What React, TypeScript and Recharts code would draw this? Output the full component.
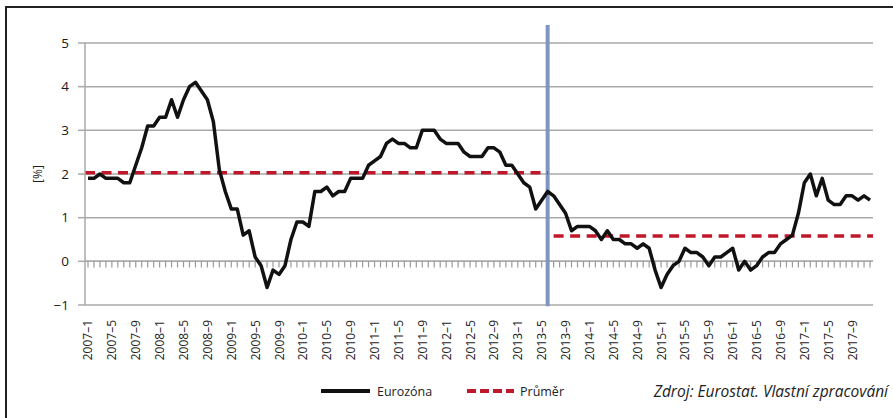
import React from "react";
import { LineChart, Line, XAxis, YAxis, CartesianGrid, ReferenceLine } from "recharts";

// ---- data ----
const YEARS = [2007, 2008, 2009, 2010, 2011, 2012, 2013, 2014, 2015, 2016, 2017];
const MONTHS = [1, 2, 3, 4, 5, 6, 7, 8, 9, 10, 11, 12];

const V2007 = [1.9, 1.9, 2.0, 1.9, 1.9, 1.9, 1.8, 1.8, 2.2, 2.6, 3.1, 3.1];
const V2008 = [3.3, 3.3, 3.7, 3.3, 3.7, 4.0, 4.1, 3.9, 3.7, 3.2, 2.1, 1.6];
const V2009 = [1.2, 1.2, 0.6, 0.7, 0.1, -0.1, -0.6, -0.2, -0.3, -0.1, 0.5, 0.9];
const V2010 = [0.9, 0.8, 1.6, 1.6, 1.7, 1.5, 1.6, 1.6, 1.9, 1.9, 1.9, 2.2];
const V2011 = [2.3, 2.4, 2.7, 2.8, 2.7, 2.7, 2.6, 2.6, 3.0, 3.0, 3.0, 2.8];
const V2012 = [2.7, 2.7, 2.7, 2.5, 2.4, 2.4, 2.4, 2.6, 2.6, 2.5, 2.2, 2.2];
const V2013 = [2.0, 1.8, 1.7, 1.2, 1.4, 1.6, 1.5, 1.3, 1.1, 0.7, 0.8, 0.8];
const V2014 = [0.8, 0.7, 0.5, 0.7, 0.5, 0.5, 0.4, 0.4, 0.3, 0.4, 0.3, -0.2];
const V2015 = [-0.6, -0.3, -0.1, 0.0, 0.3, 0.2, 0.2, 0.1, -0.1, 0.1, 0.1, 0.2];
const V2016 = [0.3, -0.2, 0.0, -0.2, -0.1, 0.1, 0.2, 0.2, 0.4, 0.5, 0.6, 1.1];
const V2017 = [1.8, 2.0, 1.5, 1.9, 1.4, 1.3, 1.3, 1.5, 1.5, 1.4, 1.5, 1.4];

const EUROZONE = [
  ...V2007, ...V2008, ...V2009, ...V2010, ...V2011, ...V2012,
  ...V2013, ...V2014, ...V2015, ...V2016, ...V2017,
];

const CATEGORIES: string[] = [];
YEARS.forEach((y) => MONTHS.forEach((m) => CATEGORIES.push(`${y}–${m}`)));

const TICK_LABELS = [
  "2007–1", "2007–5", "2007–9", "2008–1", "2008–5", "2008–9", "2009–1", "2009–5", "2009–9",
  "2010–1", "2010–5", "2010–9", "2011–1", "2011–5", "2011–9", "2012–1", "2012–5", "2012–9",
  "2013–1", "2013–5", "2013–9", "2014–1", "2014–5", "2014–9", "2015–1", "2015–5", "2015–9",
  "2016–1", "2016–5", "2016–9", "2017–1", "2017–5", "2017–9",
];

const Y_TICKS = [-1, 0, 1, 2, 3, 4, 5];

// averages (Průměr) per period
const AVG_VALUES = [2.03, 0.58];
const AVG_PERIODS = [
  ["2007–1", "2013–6"],
  ["2013–7", "2017–12"],
];
const DIVIDER_AT = "2013–6";

const SERIES_NAME = "Eurozóna";
const AVG_NAME = "Průměr";
const SOURCE = "Zdroj: Eurostat. Vlastní zpracování";
const Y_LABEL = "[%]";

// ---- chart ----
const idx = (c: string) => CATEGORIES.indexOf(c);
const rows = CATEGORIES.map((c, i) => ({ idx: i, period: c, eurozone: EUROZONE[i] }));
const tickIdx = TICK_LABELS.map(idx);
const X_DOMAIN = [-0.5, CATEGORIES.length - 0.5];

const FONT = "'Open Sans', 'Noto Sans', sans-serif";
const GRID = "#a9a9a9";
const RED = "#c0182a";

const XTick = (props: any) => {
  const { x, y, payload } = props;
  return (
    <text
      x={x}
      y={y}
      transform={`rotate(-90 ${x} ${y})`}
      textAnchor="end"
      dominantBaseline="central"
      fontSize={12}
      fontFamily={FONT}
      fill="#222"
    >
      {CATEGORIES[payload.value]}
    </text>
  );
};

export default function App() {
  return (
    <div style={{ position: "absolute", left: 0, top: 0, width: 893, height: 418, background: "#fff", fontFamily: FONT }}>
      <div
        style={{
          position: "absolute",
          left: 5,
          top: 6,
          width: 888,
          height: 412,
          borderTop: "2px solid #222",
          borderLeft: "2px solid #222",
        }}
      />
      <div style={{ position: "absolute", left: 0, top: 0 }}>
        <LineChart width={893} height={418} data={rows} margin={{ top: 43, right: 20, left: 35, bottom: 0 }}>
          <CartesianGrid vertical={false} stroke={GRID} strokeWidth={1.5} />
          <XAxis
            dataKey="idx"
            type="number"
            domain={X_DOMAIN}
            ticks={tickIdx}
            interval={0}
            axisLine={false}
            tickLine={false}
            tickSize={6}
            tickMargin={9}
            height={113}
            tick={<XTick />}
          />
          <YAxis
            domain={[-1, 5]}
            ticks={Y_TICKS}
            interval={0}
            width={50}
            axisLine={{ stroke: GRID, strokeWidth: 1.5 }}
            tickLine={{ stroke: GRID, strokeWidth: 1.5 }}
            tickSize={7}
            tickMargin={9}
            tick={{ fontSize: 13.5, fill: "#1a1a1a", fontFamily: FONT }}
            tickFormatter={(v: number) => (v < 0 ? `−${Math.abs(v)}` : String(v))}
          />
          <ReferenceLine y={0} stroke={GRID} strokeWidth={1.5} />
          {CATEGORIES.map((c, i) => (
            <ReferenceLine
              key={c}
              segment={[{ x: i, y: 0 }, { x: i, y: -0.14 }]}
              stroke="#9a9a9a"
              strokeWidth={1.2}
              ifOverflow="visible"
            />
          ))}
          <ReferenceLine
            segment={[{ x: idx(DIVIDER_AT), y: -1.03 }, { x: idx(DIVIDER_AT), y: 5.41 }]}
            stroke="#7f96c2"
            strokeWidth={4}
            ifOverflow="visible"
          />
          {AVG_PERIODS.map((p, k) => (
            <ReferenceLine
              key={p[0]}
              segment={[
                { x: k === 0 ? X_DOMAIN[0] : idx(p[0]), y: AVG_VALUES[k] },
                { x: k === 0 ? idx(p[1]) : X_DOMAIN[1], y: AVG_VALUES[k] },
              ]}
              stroke={RED}
              strokeWidth={3.5}
              strokeDasharray="10 6.5"
              ifOverflow="visible"
            />
          ))}
          <Line
            dataKey="eurozone"
            name={SERIES_NAME}
            stroke="#111"
            strokeWidth={3.5}
            dot={false}
            activeDot={false}
            strokeLinejoin="round"
            isAnimationActive={false}
          />
        </LineChart>
      </div>
      <div
        style={{
          position: "absolute",
          left: 37,
          top: 174,
          transform: "translate(-50%, -50%) rotate(-90deg)",
          fontSize: 12,
          color: "#222",
          whiteSpace: "nowrap",
        }}
      >
        {Y_LABEL}
      </div>
      <svg style={{ position: "absolute", left: 0, top: 0 }} width={893} height={418}>
        <line x1={321} x2={370} y1={391} y2={391} stroke="#111" strokeWidth={4} />
        <text x={377} y={391} dominantBaseline="central" fontSize={12.5} fontFamily={FONT} fill="#222">
          {SERIES_NAME}
        </text>
        <line x1={467} x2={514} y1={391} y2={391} stroke={RED} strokeWidth={4} strokeDasharray="9 4" />
        <text x={520} y={391} dominantBaseline="central" fontSize={12.5} fontFamily={FONT} fill="#222">
          {AVG_NAME}
        </text>
        <text
          x={888}
          y={391}
          textAnchor="end"
          dominantBaseline="central"
          fontSize={15.5}
          fontStyle="italic"
          fontFamily={FONT}
          fill="#222"
        >
          {SOURCE}
        </text>
      </svg>
    </div>
  );
}
